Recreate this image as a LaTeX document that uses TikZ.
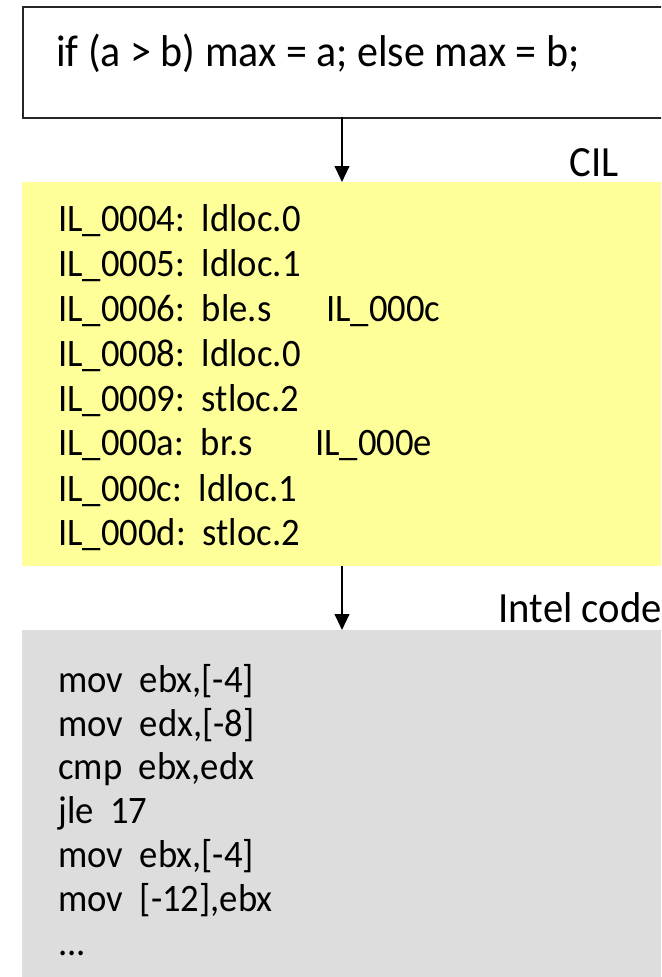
\documentclass[tikz,border=0pt]{standalone}
\usepackage{fontspec}
\setmainfont{Carlito}
\usetikzlibrary{arrows.meta}
\definecolor{cilfill}{HTML}{FFFF99}
\definecolor{asmfill}{HTML}{DDDDDD}
% slightly tall lettering used throughout
\newcommand{\tallText}[1]{\scalebox{1}[1.06]{#1}}
\begin{document}
\begin{tikzpicture}[x=0.75pt,y=-0.75pt,
  codetext/.style={anchor=base west,inner sep=0pt,font=\fontsize{27.5pt}{33pt}\selectfont},
  labeltext/.style={anchor=base east,inner sep=0pt,font=\fontsize{30.5pt}{36pt}\selectfont},
  flow/.style={line width=1.5pt,-{Triangle[length=12pt,width=11pt]}}]
\useasboundingbox (0,0) rectangle (661,977);
\clip (0,0) rectangle (661,977);
% source statement (the frame runs on past the right edge)
\node[draw=black!85,line width=1.3pt,minimum width=660*0.75pt,minimum height=111*0.75pt,
  anchor=north west,inner sep=0pt] (src) at (22,6) {};
\node[anchor=base west,inner sep=0pt,font=\fontsize{31.5pt}{37pt}\selectfont] (srctext) at (56,67)
  {\tallText{if (a > b) max = a; else max = b;}};
% CIL block
\node[fill=cilfill,minimum width=639*0.75pt,minimum height=384*0.75pt,
  anchor=north west,inner sep=0pt] (cil) at (22,182) {};
\node[labeltext] (cillabel) at (619,176) {\tallText{CIL}};
\node[codetext] (c1) at (58,231) {\tallText{IL\_0004:\ \ ldloc.0}};
\node[codetext] (c2) at (58,276) {\tallText{IL\_0005:\ \ ldloc.1}};
\node[codetext] (c3) at (58,321) {\tallText{IL\_0006:\ \ ble.s}};
\node[codetext] (c3b) at (326,321) {\tallText{IL\_000c}};
\node[codetext] (c4) at (58,366) {\tallText{IL\_0008:\ \ ldloc.0}};
\node[codetext] (c5) at (58,411) {\tallText{IL\_0009:\ \ stloc.2}};
\node[codetext] (c6) at (58,455) {\tallText{IL\_000a:\ \ br.s}};
\node[codetext] (c6b) at (315,455) {\tallText{IL\_000e}};
\node[codetext] (c7) at (58,501) {\tallText{IL\_000c:\ \ ldloc.1}};
\node[codetext] (c8) at (58,545) {\tallText{IL\_000d:\ \ stloc.2}};
% native code block
\node[fill=asmfill,minimum width=639*0.75pt,minimum height=347*0.75pt,
  anchor=north west,inner sep=0pt] (asm) at (22,630) {};
\node[labeltext] (asmlabel) at (662,622) {\tallText{Intel code}};
\node[codetext] (a1) at (58,692) {\tallText{mov\ \ ebx,[-4]}};
\node[codetext] (a2) at (58,736) {\tallText{mov\ \ edx,[-8]}};
\node[codetext] (a3) at (58,779) {\tallText{cmp\ \ ebx,edx}};
\node[codetext] (a4) at (58,823) {\tallText{jle\ \ 17}};
\node[codetext] (a5) at (58,867) {\tallText{mov\ \ ebx,[-4]}};
\node[codetext] (a6) at (58,911) {\tallText{mov\ \ [-12],ebx}};
\node[codetext] (a7) at (58,955) {\tallText{...}};
% translation arrows
\coordinate (srcout) at (342,117);
\coordinate (cilin) at (342,182);
\coordinate (cilout) at (342,566);
\coordinate (asmin) at (342,630);
\draw[flow] (srcout) -- (cilin);
\draw[flow] (cilout) -- (asmin);
\end{tikzpicture}
\end{document}
